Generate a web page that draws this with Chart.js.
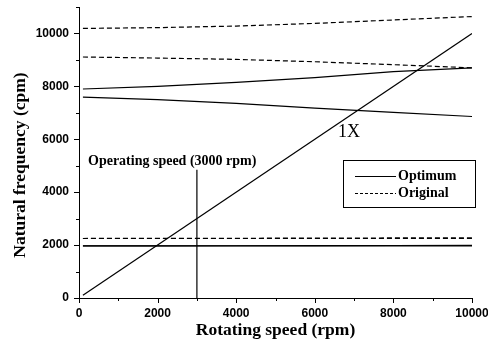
<!DOCTYPE html>
<html>
<head>
<meta charset="utf-8">
<script src="https://cdn.jsdelivr.net/npm/chart.js@4.4.1/dist/chart.umd.min.js"></script>
<style>
  body { margin: 0; background: #fff; }
  canvas { display: block; }
</style>
</head>
<body>
<canvas id="grafico" width="488" height="351"></canvas>
<script>
// rotating speed samples (rpm)
const speeds = [100, 2000, 4000, 6000, 8000, 10000];

// optimum design (solid)
const optimumMode1 = [1970, 1970, 1970, 1970, 1970, 1970];
const optimumMode2 = [1970, 1972, 1975, 1980, 1985, 1990];
const optimumMode3 = [7590, 7500, 7360, 7180, 7020, 6860];
const optimumMode4 = [7900, 8000, 8150, 8330, 8560, 8700];

// original design (dashed)
const originalMode1 = [2250, 2250, 2250, 2250, 2250, 2250];
const originalMode2 = [2250, 2253, 2258, 2263, 2270, 2275];
const originalMode3 = [9110, 9070, 9020, 8930, 8820, 8700];
const originalMode4 = [10190, 10220, 10280, 10380, 10510, 10640];

// 1X excitation line and operating speed
const line1X = [[100, 100], [10000, 10000]];
const operatingLine = [[3000, 0], [3000, 4850]];

function pontos(valores) {
  return speeds.map((s, i) => ({ x: s, y: valores[i] }));
}

const solido = { borderColor: '#000', borderWidth: 1.2, pointRadius: 0, showLine: true, fill: false };
const tracejado = { ...solido, borderDash: [5, 3] };

const datasets = [
  { label: 'Optimum', data: pontos(optimumMode1), ...solido },
  { label: 'Optimum', data: pontos(optimumMode2), ...solido },
  { label: 'Optimum', data: pontos(optimumMode3), ...solido },
  { label: 'Optimum', data: pontos(optimumMode4), ...solido },
  { label: 'Original', data: pontos(originalMode1), ...tracejado },
  { label: 'Original', data: pontos(originalMode2), ...tracejado },
  { label: 'Original', data: pontos(originalMode3), ...tracejado },
  { label: 'Original', data: pontos(originalMode4), ...tracejado },
  { label: '1X', data: line1X.map(p => ({ x: p[0], y: p[1] })), ...solido },
  { label: 'op', data: operatingLine.map(p => ({ x: p[0], y: p[1] })), ...solido }
];

const serif = '"Liberation Serif", "Times New Roman", serif';

// desenha ticks, titulos dos eixos, legenda e anotacoes
const extras = {
  id: 'extras',
  afterDraw(chart) {
    const ctx = chart.ctx;
    const xs = chart.scales.x, ys = chart.scales.y;
    const area = chart.chartArea;
    ctx.save();
    ctx.strokeStyle = '#000';
    ctx.lineWidth = 1;
    ctx.beginPath();
    for (let v = 0; v <= 10000; v += 1000) {
      const px = Math.round(xs.getPixelForValue(v)) + 0.5;
      const len = v % 2000 === 0 ? 5 : 3;
      ctx.moveTo(px, area.bottom);
      ctx.lineTo(px, area.bottom + len);
    }
    for (let v = 0; v <= 11000; v += 1000) {
      const py = Math.round(ys.getPixelForValue(v)) + 0.5;
      const len = v % 2000 === 0 ? 5 : 3;
      ctx.moveTo(area.left, py);
      ctx.lineTo(area.left - len, py);
    }
    ctx.stroke();

    ctx.fillStyle = '#000';
    // titulos
    ctx.font = 'bold 17.5px ' + serif;
    ctx.textAlign = 'center';
    ctx.textBaseline = 'alphabetic';
    ctx.fillText('Rotating speed (rpm)', (area.left + area.right) / 2, 335);
    ctx.save();
    ctx.translate(25, 165);
    ctx.rotate(-Math.PI / 2);
    ctx.fillText('Natural frequency (cpm)', 0, 0);
    ctx.restore();

    // anotacoes
    ctx.textAlign = 'left';
    ctx.font = '18px ' + serif;
    ctx.fillText('1X', 338, 137);
    ctx.font = 'bold 14px ' + serif;
    ctx.fillText('Operating speed (3000 rpm)', 88, 165);

    // legenda
    ctx.strokeRect(343.5, 160.5, 132, 47);
    ctx.font = 'bold 14px ' + serif;
    ctx.textBaseline = 'middle';
    ctx.fillText('Optimum', 398, 176);
    ctx.fillText('Original', 398, 193);
    ctx.beginPath();
    ctx.moveTo(355, 176.5);
    ctx.lineTo(396, 176.5);
    ctx.stroke();
    ctx.setLineDash([3, 2]);
    ctx.beginPath();
    ctx.moveTo(355, 193.5);
    ctx.lineTo(396, 193.5);
    ctx.stroke();
    ctx.restore();
  }
};

const fonteTicks = { family: '"Liberation Sans", Arial, sans-serif', size: 12, weight: 'bold' };

function semSobra(s) {
  s.paddingTop = 0; s.paddingBottom = 0; s.paddingLeft = 0; s.paddingRight = 0;
}

new Chart(document.getElementById('grafico'), {
  type: 'scatter',
  data: { datasets },
  options: {
    responsive: false,
    animation: false,
    layout: { padding: { top: 7, right: 16, left: 0, bottom: 0 } },
    plugins: { legend: { display: false }, tooltip: { enabled: false } },
    scales: {
      x: {
        type: 'linear', min: 0, max: 10000,
        grid: { display: false, drawTicks: false },
        border: { display: true, color: '#000', width: 1 },
        ticks: {
          stepSize: 1000, autoSkip: false, maxRotation: 0, padding: 8,
          color: '#000', font: fonteTicks,
          callback: v => (v % 2000 === 0 ? v : '')
        },
        afterFit: s => { s.height = 53; semSobra(s); }
      },
      y: {
        type: 'linear', min: 0, max: 11000,
        grid: { display: false, drawTicks: false },
        border: { display: true, color: '#000', width: 1 },
        ticks: {
          stepSize: 1000, autoSkip: false, padding: 10,
          color: '#000', font: fonteTicks,
          callback: v => (v % 2000 === 0 ? v : '')
        },
        afterFit: s => { s.width = 79; semSobra(s); }
      }
    }
  },
  plugins: [extras]
});
</script>
</body>
</html>
